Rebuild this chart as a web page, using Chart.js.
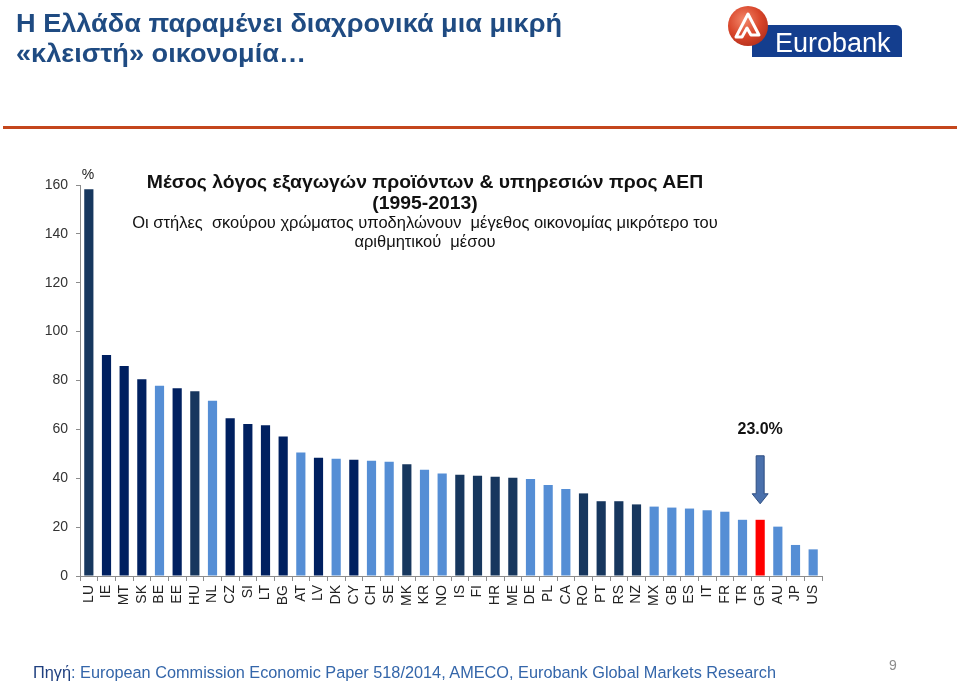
<!DOCTYPE html>
<html>
<head>
<meta charset="utf-8">
<script src="https://cdn.jsdelivr.net/npm/chart.js@4"></script>
<style>
  html, body { margin: 0; padding: 0; background: #fff; }
  #page { position: relative; width: 960px; height: 684px; overflow: hidden; font-family: Arial, "Liberation Sans", sans-serif; }
  #chart { position: absolute; left: 0; top: 0; }
  .title { position: absolute; left: 16px; top: 8px; font-size: 25px; font-weight: bold; line-height: 30px; color: #1F4B82;
           transform: scaleX(1.085); transform-origin: 0 0; }
  .rule { position: absolute; left: 3px; top: 126px; width: 954px; height: 3px; background: #C4461C; }
  .ctitle { position: absolute; left: 125px; width: 600px; text-align: center; color: #111; transform-origin: 300px 0; }
  .ctitle.b { font-weight: bold; font-size: 18px; transform: scaleX(1.075); }
  .ctitle.s { font-size: 16px; transform: scaleX(1.03); }
  .footer { position: absolute; left: 33px; top: 663px; font-size: 16.3px; color: #3466AA; white-space: nowrap; }
  .footer b { color: #1F3F7F; font-weight: normal; }
  .pageno { position: absolute; left: 889px; top: 657px; font-size: 14px; color: #8c8c8c; }
  .logo { position: absolute; left: 726px; top: 4px; }
</style>
</head>
<body>
<div id="page">
  <canvas id="chart" width="960" height="684"></canvas>

  <div class="title">Η Ελλάδα παραμένει διαχρονικά μια μικρή<br>«κλειστή» οικονομία…</div>
  <div class="rule"></div>

  <svg class="logo" width="180" height="56" viewBox="0 0 180 56">
    <defs>
      <radialGradient id="red" cx="0.4" cy="0.35" r="0.7">
        <stop offset="0" stop-color="#F3876A"/>
        <stop offset="0.6" stop-color="#D8452A"/>
        <stop offset="1" stop-color="#B5301C"/>
      </radialGradient>
    </defs>
    <path d="M26 21 H170 a6 6 0 0 1 6 6 V53 H26 Z" fill="#143E8E"/>
    <circle cx="22" cy="22" r="20" fill="url(#red)"/>
    <path d="M10 33 L22 10 L33 31 L25 31 L21 24 L16 33 Z" fill="none" stroke="#fff" stroke-width="3" stroke-linejoin="round"/>
    <text x="49" y="48" font-family="Arial, sans-serif" font-size="27" fill="#fff">Eurobank</text>
  </svg>

  <div class="ctitle b" style="top:172px;">Μέσος λόγος εξαγωγών προϊόντων &amp; υπηρεσιών προς ΑΕΠ</div>
  <div class="ctitle b" style="top:193px;">(1995-2013)</div>
  <div class="ctitle s" style="top:214px;">Οι στήλες&nbsp; σκούρου χρώματος υποδηλώνουν&nbsp; μέγεθος οικονομίας μικρότερο του</div>
  <div class="ctitle s" style="top:233px;">αριθμητικού&nbsp; μέσου</div>

  <div class="footer"><b>Πηγή</b>: European Commission Economic Paper 518/2014, AMECO, Eurobank Global Markets Research</div>
  <div class="pageno">9</div>
</div>

<script>
/* ── Data ───────────────────────────────────────────────── */

const countries = ['LU','IE','MT','SK','BE','EE','HU','NL','CZ','SI','LT','BG','AT','LV',
                   'DK','CY','CH','SE','MK','KR','NO','IS','FI','HR','ME','DE','PL','CA',
                   'RO','PT','RS','NZ','MX','GB','ES','IT','FR','TR','GR','AU','JP','US'];

// average exports of goods & services, % of GDP (1995-2013)
const exportShare = [158.3, 90.4, 85.9, 80.5, 77.9, 76.8, 75.6, 71.7, 64.6, 62.2, 61.7, 57.1, 50.5, 48.4,
                     48.0, 47.6, 47.2, 46.8, 45.7, 43.5, 41.9, 41.4, 41.0, 40.6, 40.2, 39.7, 37.2, 35.6,
                     33.8, 30.6, 30.6, 29.3, 28.4, 28.0, 27.6, 26.9, 26.3, 23.0, 23.0, 20.2, 12.7, 10.9];

// bar group: 'navy' / 'slate' = small economy, 'large' = above average, 'gr' = Greece
const barGroup = ['slate','navy','navy','navy','large','navy','slate','large','navy','navy','navy','navy','large','navy',
                  'large','navy','large','large','slate','large','large','slate','slate','slate','slate','large','large','large',
                  'slate','slate','slate','slate','large','large','large','large','large','large','gr','large','large','large'];

const yTicks = [0, 20, 40, 60, 80, 100, 120, 140, 160];

const highlight = { country: 'GR', label: '23.0%' };


/* ── Config ─────────────────────────────────────────────── */

const COLORS = { navy: '#002060', slate: '#17375E', large: '#558ED5', gr: '#FF0000' };
const AXIS = '#8C8C8C';
const TICK_FONT = { family: 'Arial, "Liberation Sans", sans-serif', size: 14 };


/* ── Annotation plugin: "%" unit + arrow over Greece ───── */

const annotations = {
  id: 'annotations',
  afterDatasetsDraw(chart) {
    const { ctx, chartArea, scales: { x, y } } = chart;
    const i = countries.indexOf(highlight.country);
    const cx = x.getPixelForValue(i);
    const top = y.getPixelForValue(exportShare[i]);

    ctx.save();
    ctx.fillStyle = '#222';
    ctx.font = '14px Arial, "Liberation Sans", sans-serif';
    ctx.textAlign = 'center';
    ctx.textBaseline = 'alphabetic';
    ctx.fillText('%', chartArea.left + 8, chartArea.top - 6);

    // arrow
    const tip = top - 16, tail = top - 64, head = 10;
    ctx.beginPath();
    ctx.moveTo(cx - 4, tail);
    ctx.lineTo(cx + 4, tail);
    ctx.lineTo(cx + 4, tip - head);
    ctx.lineTo(cx + 8, tip - head);
    ctx.lineTo(cx, tip);
    ctx.lineTo(cx - 8, tip - head);
    ctx.lineTo(cx - 4, tip - head);
    ctx.closePath();
    ctx.fillStyle = '#4A70AC';
    ctx.fill();
    ctx.strokeStyle = '#2E4E82';
    ctx.lineWidth = 1;
    ctx.stroke();

    ctx.fillStyle = '#111';
    ctx.font = 'bold 16px Arial, "Liberation Sans", sans-serif';
    ctx.fillText(highlight.label, cx, tail - 22);
    ctx.restore();
  }
};


/* ── Chart ──────────────────────────────────────────────── */

new Chart(document.getElementById('chart'), {
  type: 'bar',
  data: {
    labels: countries,
    datasets: [{
      data: exportShare,
      backgroundColor: barGroup.map(g => COLORS[g]),
      categoryPercentage: 0.52,
      barPercentage: 1
    }]
  },
  options: {
    responsive: false,
    animation: false,
    devicePixelRatio: 1,
    layout: { padding: { left: 20, right: 138, top: 185, bottom: 0 } },
    plugins: { legend: { display: false }, tooltip: { enabled: false } },
    scales: {
      x: {
        grid: { display: true, drawOnChartArea: false, tickLength: 5, color: AXIS },
        border: { color: AXIS },
        ticks: { color: '#222', font: TICK_FONT, minRotation: 90, maxRotation: 90, padding: 4, autoSkip: false },
        afterFit: s => { s.height = 108; }
      },
      y: {
        min: 0, max: 160,
        afterBuildTicks: s => { s.ticks = yTicks.map(v => ({ value: v })); },
        grid: { display: true, drawOnChartArea: false, tickLength: 4, color: AXIS },
        border: { color: AXIS },
        ticks: { color: '#333', font: TICK_FONT, padding: 8 },
        afterFit: s => { s.width = 60; }
      }
    }
  },
  plugins: [annotations]
});
</script>
</body>
</html>
